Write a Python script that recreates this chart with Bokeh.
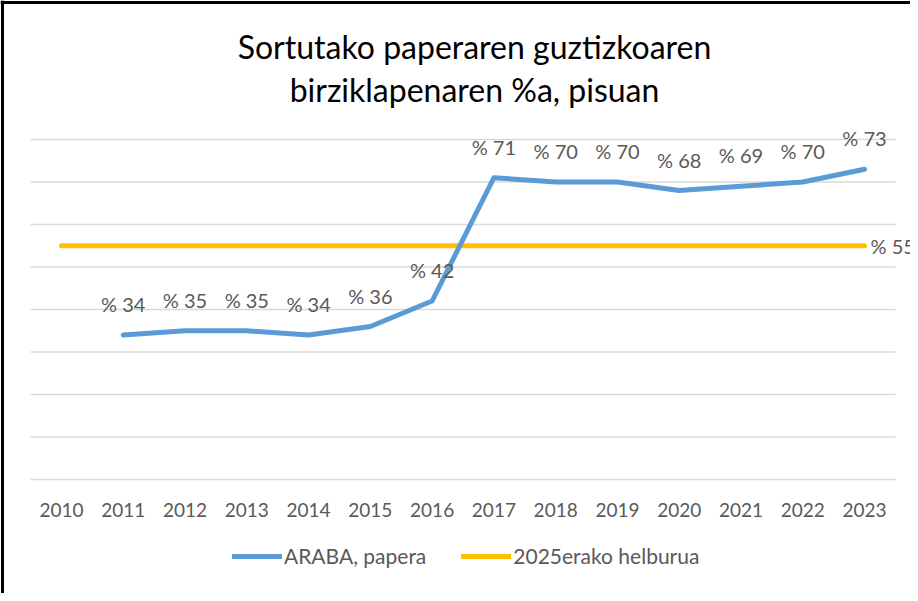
from bokeh.plotting import figure
from bokeh.models import Range1d, ColumnDataSource, LabelSet, Label, Legend, LegendItem, Span
from bokeh.core.properties import value
from bokeh.embed import file_html
from bokeh.resources import INLINE

years = ["2010", "2011", "2012", "2013", "2014", "2015", "2016",
         "2017", "2018", "2019", "2020", "2021", "2022", "2023"]
araba_years = ["2011", "2012", "2013", "2014", "2015", "2016",
               "2017", "2018", "2019", "2020", "2021", "2022", "2023"]
araba_values = [34, 35, 35, 34, 36, 42, 71, 70, 70, 68, 69, 70, 73]
target_years = years
target_values = [55, 55, 55, 55, 55, 55, 55, 55, 55, 55, 55, 55, 55, 55]
y_ticks = [0, 10, 20, 30, 40, 50, 60, 70, 80]
title_lines = ["Sortutako paperaren guztizkoaren", "birziklapenaren %a, pisuan"]
series_names = ["ARABA, papera", "2025erako helburua"]

FONT = "Lato"
GREY = "#595959"
BLUE = "#5B9BD5"
YELLOW = "#FFC000"

W, H = 910, 593
# category index scale: one category = 61.77 px, first category centre at 61 px
x_start, x_end = -61 / 61.77, (W - 61) / 61.77
# value scale: 4.25 px per unit, zero at 479 px from top
y_end, y_start = 479 / 4.25, -(H - 479) / 4.25

p = figure(x_range=Range1d(x_start, x_end), y_range=Range1d(y_start, y_end),
           width=W, height=H, output_backend="svg", toolbar_location=None,
           min_border=0)
p.outline_line_color = None
p.background_fill_color = "white"
p.border_fill_color = "white"
p.xaxis.visible = False
p.yaxis.visible = False
p.grid.visible = False

idx = {y: i for i, y in enumerate(years)}
n = len(years)

# horizontal gridlines spanning the category bands
p.segment(x0=[-0.5] * len(y_ticks), y0=y_ticks, x1=[n - 0.5] * len(y_ticks), y1=y_ticks,
          line_color="#D9D9D9", line_width=1.5)

# category labels (x axis)
src_x = ColumnDataSource(dict(x=list(range(n)), y=[0] * n, t=years))
p.add_layout(LabelSet(x="x", y="y", text="t", source=src_x, y_offset=-30,
                      text_align="center", text_baseline="middle",
                      text_font=value(FONT), text_font_size="19px", text_color=GREY))

src_a = ColumnDataSource(dict(x=[idx[y] for y in araba_years], y=araba_values,
                              t=["% " + str(v) for v in araba_values]))
src_t = ColumnDataSource(dict(x=[idx[y] for y in target_years], y=target_values))
src_tl = ColumnDataSource(dict(x=[idx[target_years[-1]]], y=target_values[-1:],
                               t=["% " + str(v) for v in target_values[-1:]]))

r_t = p.line("x", "y", source=src_t, line_color=YELLOW, line_width=5, line_cap="round")
r_a = p.line("x", "y", source=src_a, line_color=BLUE, line_width=5, line_cap="round", line_join="round")

p.add_layout(LabelSet(x="x", y="y", text="t", source=src_a, y_offset=31,
                      text_align="center", text_baseline="middle",
                      text_font=value(FONT), text_font_size="20px", text_color=GREY))
p.add_layout(LabelSet(x="x", y="y", text="t", source=src_tl, x_offset=6,
                      text_align="left", text_baseline="middle",
                      text_font=value(FONT), text_font_size="20px", text_color=GREY))

# title, two lines centred at the chart-area centre
for i, line in enumerate(title_lines):
    p.add_layout(Label(x=6.686, y=80, y_offset=93 - 43 * i, text=line,
                       text_align="center", text_baseline="middle",
                       text_font=FONT, text_font_size="32px", text_color="#000000"))

# chart-area border (left and top edges)
p.add_layout(Span(location=x_start + 2 / 61.77, dimension="height", line_color="black", line_width=3))
p.add_layout(Span(location=y_end - 2 / 4.25, dimension="width", line_color="black", line_width=3))

legend = Legend(items=[LegendItem(label=series_names[0], renderers=[r_a]),
                       LegendItem(label=series_names[1], renderers=[r_t])],
                orientation="horizontal", location=(232, 25),
                label_text_font=FONT, label_text_font_size="21px", label_text_color=GREY,
                glyph_width=50, glyph_height=20, label_standoff=2, spacing=35,
                border_line_color=None, background_fill_alpha=0, padding=0, margin=0)
p.add_layout(legend)

open("out.html", "w").write(file_html(p, INLINE))
